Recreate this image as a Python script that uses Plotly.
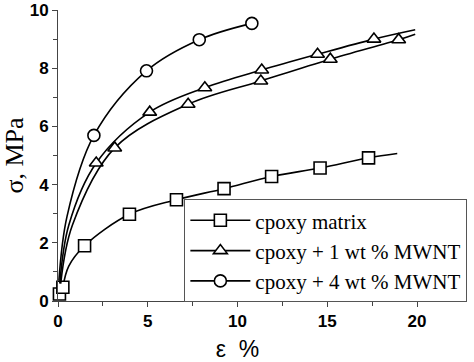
import plotly.graph_objects as go

# epoxy matrix (squares)
sq_x = [0.08, 0.27, 1.48, 3.98, 6.6, 9.25, 11.9, 14.6, 17.3]
sq_y = [0.24, 0.47, 1.9, 2.98, 3.48, 3.86, 4.28, 4.57, 4.92]
sq_line_x = [0.27, 0.6, 1.48, 3.98, 6.6, 9.25, 11.9, 14.6, 17.3, 18.9]
sq_line_y = [0.47, 1.2, 1.9, 2.98, 3.48, 3.86, 4.28, 4.57, 4.92, 5.07]

# epoxy + 1 wt % MWNT, run A (upper triangles)
ta_x = [2.13, 5.11, 8.18, 11.35, 14.46, 17.6]
ta_y = [4.74, 6.49, 7.33, 7.94, 8.48, 9.0]
ta_line_x = [0.1, 0.6, 2.13, 5.11, 8.18, 11.35, 14.46, 17.6, 19.9]
ta_line_y = [0.6, 2.6, 4.74, 6.49, 7.33, 7.94, 8.48, 9.0, 9.32]

# epoxy + 1 wt % MWNT, run B (lower triangles)
tb_x = [3.16, 7.25, 11.3, 15.17, 18.98]
tb_y = [5.26, 6.76, 7.56, 8.31, 8.98]
tb_line_x = [0.15, 0.8, 3.16, 7.25, 11.3, 15.17, 18.98, 19.9]
tb_line_y = [0.6, 2.6, 5.26, 6.76, 7.56, 8.31, 8.98, 9.17]

# epoxy + 4 wt % MWNT (circles)
ci_x = [2.0, 4.93, 7.87, 10.8]
ci_y = [5.69, 7.91, 8.98, 9.54]
ci_line_x = [0.05, 0.5, 2.0, 4.93, 7.87, 10.8]
ci_line_y = [0.7, 2.9, 5.69, 7.91, 8.98, 9.54]

names = ["cpoxy matrix", "cpoxy + 1 wt % MWNT", "cpoxy + 4 wt % MWNT"]

fig = go.Figure()
LW = 1.6
MS = 12

def add_curve(lx, ly, mx, my, sym):
    fig.add_trace(go.Scatter(x=lx, y=ly, mode="lines", line=dict(color="black", width=LW, shape="spline", smoothing=1.0),
                             showlegend=False, hoverinfo="skip", cliponaxis=False))
    fig.add_trace(go.Scatter(x=mx, y=my, mode="markers",
                             marker=dict(symbol=sym, size=MS, color="white", line=dict(color="black", width=1.6)),
                             showlegend=False, cliponaxis=False))

add_curve(sq_line_x, sq_line_y, sq_x, sq_y, "square")
add_curve(ta_line_x, ta_line_y, ta_x, ta_y, "triangle-up")
add_curve(tb_line_x, tb_line_y, tb_x, tb_y, "triangle-up")
add_curve(ci_line_x, ci_line_y, ci_x, ci_y, "circle")

for nm, sym in zip(names, ["square", "triangle-up", "circle"]):
    fig.add_trace(go.Scatter(x=[None], y=[None], mode="lines+markers", name=nm,
                             line=dict(color="black", width=LW),
                             marker=dict(symbol=sym, size=MS, color="white", line=dict(color="black", width=1.6))))

fig.update_layout(
    width=474, height=362,
    margin=dict(l=58, r=57, t=10, b=61, autoexpand=False),
    plot_bgcolor="white", paper_bgcolor="white",
    showlegend=True,
    legend=dict(x=0.352, y=0.35, xanchor="left", yanchor="top",
                bgcolor="white", bordercolor="#555", borderwidth=1,
                font=dict(family="Liberation Serif", size=21, color="black"),
                itemwidth=60, tracegroupgap=0),
    font=dict(family="Liberation Sans", color="black"),
)

fig.update_xaxes(range=[0, 20], tickvals=[0, 5, 10, 15, 20], ticks="outside", ticklen=5, tickwidth=1,
                 showline=True, linecolor="#444", linewidth=1, showgrid=False, zeroline=False, automargin=False,
                 tickfont=dict(family="Liberation Sans", size=17, color="black", weight="bold"),
                 minor=dict(tickvals=[2.5, 7.5, 12.5, 17.5], ticks="outside", ticklen=4, tickcolor="#444"),
                 tickcolor="#444",
                 title=dict(text="ε  %", font=dict(family="Liberation Sans", size=23, color="black"), standoff=10))
fig.update_yaxes(range=[0, 10], tickvals=[0, 2, 4, 6, 8, 10], ticks="outside", ticklen=5, tickwidth=1,
                 showline=True, linecolor="#444", linewidth=1, showgrid=False, zeroline=False, automargin=False,
                 tickfont=dict(family="Liberation Sans", size=17, color="black", weight="bold"),
                 minor=dict(tickvals=[1, 3, 5, 7, 9], ticks="outside", ticklen=4, tickcolor="#444"),
                 tickcolor="#444",
                 title=dict(text="σ, MPa", font=dict(family="Liberation Serif", size=26, color="black"), standoff=14))

fig.write_html("out.html", config={"displayModeBar": False},
               post_script="document.body.style.margin='0';")
